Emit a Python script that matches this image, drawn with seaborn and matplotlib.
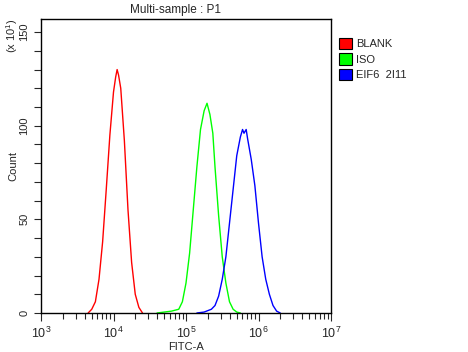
import numpy as np
import pandas as pd
import matplotlib
matplotlib.use("Agg")
import matplotlib.pyplot as plt
import matplotlib.patches as mpatches
from matplotlib.ticker import LogLocator, NullFormatter, MultipleLocator, FixedLocator
import seaborn as sns

# histogram values (log10 of FITC-A, counts in units of 10)
blank_logx = [3.65, 3.70, 3.75, 3.80, 3.85, 3.90, 3.95, 4.00, 4.03, 4.05, 4.07, 4.10,
              4.15, 4.20, 4.25, 4.30, 4.35, 4.40]
blank_cnt = [0, 2, 6, 18, 38, 66, 95, 118, 126, 130, 127, 120, 92, 55, 27, 10, 3, 0]

iso_logx = [4.60, 4.70, 4.80, 4.90, 4.95, 5.00, 5.05, 5.10, 5.15, 5.20, 5.25, 5.29,
            5.33, 5.37, 5.40, 5.45, 5.50, 5.55, 5.60, 5.65, 5.70, 5.75]
iso_cnt = [0, 0.5, 1, 2, 6, 16, 32, 55, 78, 98, 108, 112, 106, 96, 78, 52, 30, 16,
           6, 2, 0.5, 0]

eif6_logx = [5.15, 5.25, 5.35, 5.40, 5.45, 5.50, 5.55, 5.60, 5.65, 5.70, 5.75, 5.78,
             5.80, 5.83, 5.85, 5.90, 5.95, 6.00, 6.05, 6.10, 6.15, 6.20, 6.25, 6.30]
eif6_cnt = [0, 0.5, 2, 4, 9, 18, 30, 48, 66, 84, 94, 98, 96, 98, 93, 82, 68, 48, 30,
            18, 10, 4, 1, 0]

samples = ["BLANK", "ISO", "EIF6  2I11"]
colors = ["#ff0000", "#00ff00", "#0000ff"]

df = pd.concat([
    pd.DataFrame({"x": 10 ** np.array(blank_logx), "count": blank_cnt, "sample": samples[0]}),
    pd.DataFrame({"x": 10 ** np.array(iso_logx), "count": iso_cnt, "sample": samples[1]}),
    pd.DataFrame({"x": 10 ** np.array(eif6_logx), "count": eif6_cnt, "sample": samples[2]}),
])

sns.set_style("ticks")
plt.rcParams["font.family"] = ["Liberation Sans", "DejaVu Sans"]
plt.rcParams["mathtext.fontset"] = "custom"
plt.rcParams["mathtext.rm"] = "Liberation Sans"

fig = plt.figure(figsize=(4.68, 3.52), dpi=100)
ax = fig.add_axes([41 / 468, 1 - 313 / 352, 290 / 468, 294 / 352])

sns.lineplot(data=df, x="x", y="count", hue="sample", palette=colors,
             hue_order=samples, legend=False, ax=ax, linewidth=1.0,
             estimator=None, sort=False)

ax.set_xscale("log")
ax.set_xlim(1e3, 1e7)
ax.set_ylim(0, 157)
ax.xaxis.set_major_locator(FixedLocator([1e3, 1e4, 1e5, 1e6, 1e7]))
ax.set_xticklabels([r"$10^{3}$", r"$10^{4}$", r"$10^{5}$", r"$10^{6}$", r"$10^{7}$"], fontsize=9)
ax.xaxis.set_minor_locator(LogLocator(base=10, subs=np.arange(2, 10), numticks=20))
ax.xaxis.set_minor_formatter(NullFormatter())
ax.yaxis.set_major_locator(MultipleLocator(50))
ax.yaxis.set_minor_locator(MultipleLocator(10))
ax.tick_params(axis="y", which="major", labelsize=8, length=5, width=0.8, labelrotation=90)
ax.tick_params(axis="y", which="minor", length=5, width=0.8)
ax.tick_params(axis="x", which="major", length=6, width=0.8)
ax.tick_params(axis="x", which="minor", length=4, width=0.8)
for lab in ax.get_yticklabels():
    lab.set_va("center")

for sp in ax.spines.values():
    sp.set_linewidth(1.0)
    sp.set_color("black")

ax.set_xlabel("FITC-A", fontsize=8, labelpad=0)
ax.xaxis.set_label_coords(0.5, -0.098)
ax.set_ylabel("Count", fontsize=8)
ax.yaxis.set_label_coords(-0.077, 0.5)
fig.text(176 / 468, 1 - 10 / 352, "Multi-sample : P1", fontsize=8.5, ha="center", va="center")
fig.text(12 / 468, 1 - 36 / 352, r"(x 10$^{1}$)", fontsize=8, rotation=90,
         ha="center", va="center")

handles = [mpatches.Patch(facecolor=c, edgecolor="black", linewidth=0.8, label=s)
           for c, s in zip(colors, samples)]
fig.legend(handles=handles, loc="upper left", bbox_to_anchor=(339 / 468, 1 - 38 / 352),
           frameon=False, fontsize=8, handlelength=1.2, handleheight=1.2,
           handletextpad=0.3, labelspacing=0.35, borderaxespad=0, borderpad=0)

fig.savefig("out.png", dpi=100)
